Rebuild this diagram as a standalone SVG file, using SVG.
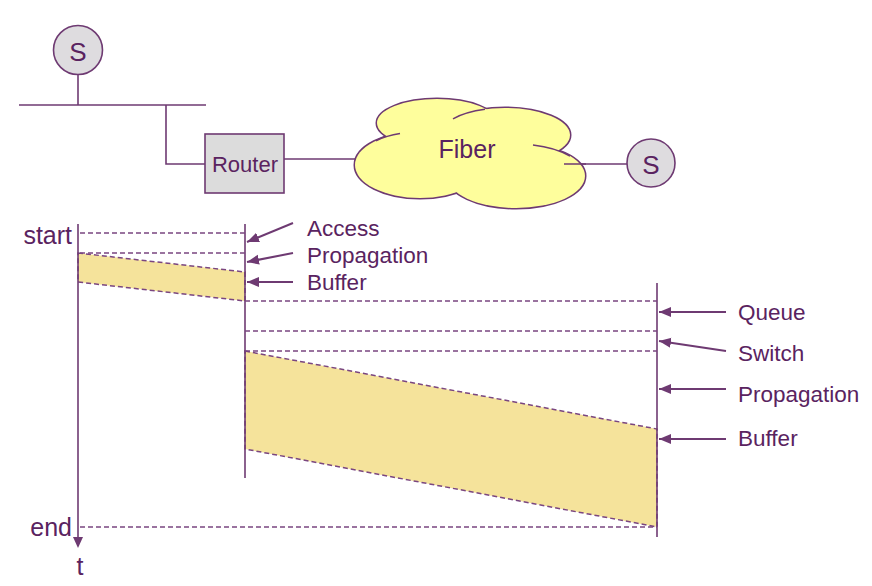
<svg xmlns="http://www.w3.org/2000/svg" width="872" height="586" viewBox="0 0 872 586">
<style>
.ln{stroke:#6e3a72;stroke-width:1.6;fill:none}
.dash{stroke:#7a4680;stroke-width:1.6;stroke-dasharray:5 3;fill:none}
.buf{fill:#f5e39b;stroke:#7a4680;stroke-width:1.5;stroke-dasharray:5 3}
.txt{font-family:"Liberation Sans",Arial,sans-serif;font-size:22.5px;fill:#5a2360}
.arr{stroke:#6e3a72;stroke-width:2;fill:none;marker-end:url(#ah)}
.cl{fill:#fefe9c}
</style>
<defs>
<marker id="ah" markerUnits="userSpaceOnUse" markerWidth="14" markerHeight="12" refX="12" refY="5" orient="auto">
<path d="M0,0 L12,5 L0,10 Z" fill="#6e3a72"/>
</marker>
</defs>
<rect width="872" height="586" fill="#ffffff"/>

<g id="network-links">
<line class="ln" x1="78" y1="75" x2="78" y2="105"/>
<line class="ln" x1="19" y1="105" x2="206" y2="105"/>
<polyline class="ln" points="166,105 166,164 205,164"/>
<line class="ln" x1="284" y1="159" x2="360" y2="159"/>
<line class="ln" x1="564" y1="164" x2="627" y2="164"/>
</g>

<g id="server-left">
<circle cx="78" cy="50" r="24.5" fill="#dedcdf" stroke="#6e3a72" stroke-width="1.6"/>
<text class="txt" x="78" y="61" text-anchor="middle" style="font-size:26px">S</text>
</g>

<g id="router">
<rect x="205" y="134" width="79" height="59" fill="#dcdcdc" stroke="#6e3a72" stroke-width="1.6"/>
<text class="txt" x="245" y="172" text-anchor="middle" style="font-size:22px">Router</text>
</g>

<g id="fiber">
<g stroke="#6e3a72" stroke-width="3" fill="#fefe9c">
<ellipse cx="437" cy="123" rx="60" ry="24"/>
<ellipse cx="505" cy="135" rx="65" ry="27"/>
<ellipse cx="420" cy="165" rx="65" ry="33"/>
<ellipse cx="516" cy="176" rx="69" ry="32"/>
</g>
<g class="cl">
<ellipse cx="437" cy="123" rx="60" ry="24"/>
<ellipse cx="505" cy="135" rx="65" ry="27"/>
<ellipse cx="420" cy="165" rx="65" ry="33"/>
<ellipse cx="516" cy="176" rx="69" ry="32"/>
</g>
<g class="ln" style="stroke-width:1.5">
<path d="M376,140.7 A65,33 0 0,1 400,133.6"/>
<path d="M453,118.8 A65,27 0 0,1 485,109.3"/>
<path d="M533,145 A69,32 0 0,1 570,156.1"/>
<line x1="564" y1="164" x2="586" y2="164"/>
</g>
<text class="txt" x="467" y="158" text-anchor="middle" style="font-size:25px">Fiber</text>
</g>

<g id="server-right">
<circle cx="651" cy="163" r="24" fill="#dedcdf" stroke="#6e3a72" stroke-width="1.6"/>
<text class="txt" x="651" y="174" text-anchor="middle" style="font-size:26px">S</text>
</g>

<g id="buffers">
<polygon class="buf" points="78,253 245,272 245,301 78,282"/>
<polygon class="buf" points="245,351 657,429 657,527 245,449"/>
</g>

<g id="timelines">
<line class="ln" x1="78" y1="224" x2="78" y2="540"/>
<path d="M73,537 L78,548 L83,537 Z" fill="#6e3a72"/>
<line class="ln" x1="245" y1="224" x2="245" y2="478"/>
<line class="ln" x1="657" y1="283" x2="657" y2="537"/>
</g>

<g id="dashed-levels">
<line class="dash" x1="80" y1="233" x2="245" y2="233"/>
<line class="dash" x1="80" y1="253" x2="245" y2="253"/>
<line class="dash" x1="245" y1="301" x2="657" y2="301"/>
<line class="dash" x1="245" y1="331" x2="657" y2="331"/>
<line class="dash" x1="245" y1="351" x2="657" y2="351"/>
<line class="dash" x1="80" y1="527" x2="657" y2="527"/>
</g>

<g id="connectors">
<line class="arr" x1="293" y1="223" x2="247" y2="242"/>
<line class="arr" x1="293" y1="253" x2="247" y2="262"/>
<line class="arr" x1="293" y1="282" x2="247" y2="282"/>
<line class="arr" x1="726" y1="312" x2="659" y2="312"/>
<line class="arr" x1="726" y1="351" x2="659" y2="341"/>
<line class="arr" x1="726" y1="389" x2="659" y2="389"/>
<line class="arr" x1="726" y1="439" x2="659" y2="439"/>
</g>

<g id="labels">
<text class="txt" x="72" y="244" text-anchor="end" style="font-size:25px">start</text>
<text class="txt" x="72" y="536" text-anchor="end" style="font-size:25px">end</text>
<text class="txt" x="80" y="575" text-anchor="middle" style="font-size:25px">t</text>
<text class="txt" x="307" y="236">Access</text>
<text class="txt" x="307" y="263">Propagation</text>
<text class="txt" x="307" y="290">Buffer</text>
<text class="txt" x="738" y="320">Queue</text>
<text class="txt" x="738" y="361">Switch</text>
<text class="txt" x="738" y="402">Propagation</text>
<text class="txt" x="738" y="446">Buffer</text>
</g>
</svg>
